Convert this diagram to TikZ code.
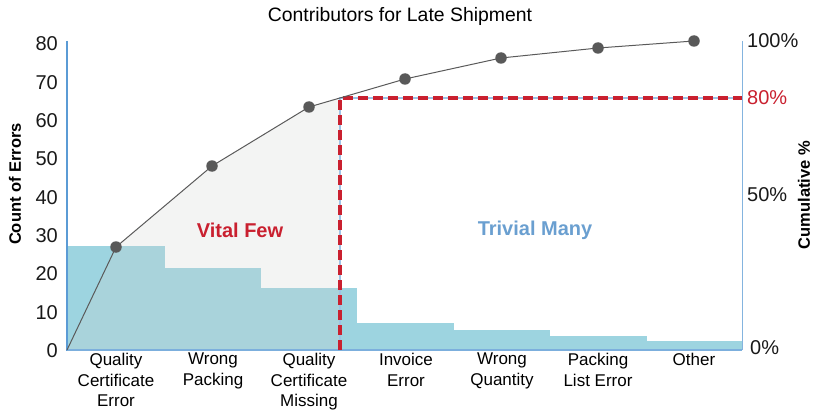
\documentclass[tikz,border=0pt]{standalone}
\usepackage{fontspec}
\setmainfont{Liberation Sans}
\definecolor{barc}{HTML}{9DD4E0}
\definecolor{axisblue}{HTML}{5B9BD5}
\definecolor{lightblue}{HTML}{9DC3E6}
\definecolor{redc}{HTML}{C9202F}
\definecolor{trivblue}{HTML}{6A9FD0}
\definecolor{ptgray}{HTML}{595959}
\definecolor{curvegray}{HTML}{5A5A5A}
\definecolor{ovgray}{HTML}{D0D2D0}
\begin{document}
\begin{tikzpicture}[x=1pt,y=-1pt,
  bar/.style={fill=barc,draw=none},
  pt/.style={circle,fill=ptgray,inner sep=0pt,minimum size=11.5pt},
  ticklab/.style={font=\fontsize{20}{22}\selectfont,text=black!90},
  catlab/.style={font=\fontsize{17}{20.5}\selectfont,align=center,anchor=north,inner sep=0pt},
  axtitle/.style={font=\fontsize{16.5}{18}\selectfont\bfseries,rotate=90},
  zone/.style={font=\fontsize{20}{22}\selectfont\bfseries}]
\useasboundingbox (0,0) rectangle (815,412);
% coordinates
\coordinate (o) at (67,350);
\coordinate (c1) at (116,247);
\coordinate (c2) at (212,166);
\coordinate (c3) at (309,107);
\coordinate (c4) at (405,79);
\coordinate (c5) at (501,58);
\coordinate (c6) at (598,48);
\coordinate (c7) at (694,41);
\coordinate (k) at (340,98);
\coordinate (kb) at (340,350);
\coordinate (kr) at (742,98);
% bars
\fill[bar] (67,350) rectangle (165,246);
\fill[bar] (165,350) rectangle (261,268);
\fill[bar] (261,350) rectangle (357,288);
\fill[bar] (357,350) rectangle (454,323);
\fill[bar] (454,350) rectangle (550,330);
\fill[bar] (550,350) rectangle (647,336);
\fill[bar] (647,350) rectangle (742,341);
% vital few overlay
\fill[fill=ovgray,fill opacity=0.25] (o) -- (c1) -- (c2) -- (c3) -- (k) -- (kb) -- cycle;
% axes
\draw[axisblue,line width=2.6pt] (67,41) -- (67,351);
\draw[axisblue!80,line width=1.2pt] (67,350) -- (742,350);
\draw[axisblue!75,line width=1pt] (742,41) -- (742,350);
% 80% line
\draw[lightblue,line width=1.8pt] (kb) -- (k) -- (kr);
\draw[redc,line width=3.2pt,dash pattern=on 10pt off 5pt] (kb) -- (k) -- (kr);
% curve
\draw[curvegray,line width=1pt] (o) -- (c1) -- (c2) -- (c3) -- (c4) -- (c5) -- (c6) -- (c7);
\foreach \p in {c1,c2,c3,c4,c5,c6,c7} \node[pt] (m\p) at (\p) {};
% title
\node[font=\fontsize{19.4}{22}\selectfont] (title) at (400,16) {Contributors for Late Shipment};
% left ticks
\foreach \v in {0,10,20,30,40,50,60,70,80}
  \node[ticklab,anchor=east,inner sep=0pt] (y\v) at (58,{350.5-\v*3.83}) {\v};
% right ticks
\node[ticklab,anchor=west,inner sep=0pt] (r100) at (747,41) {100\%};
\node[ticklab,anchor=west,inner sep=0pt,text=redc] (r80) at (747,98) {80\%};
\node[ticklab,anchor=west,inner sep=0pt] (r50) at (747,195) {50\%};
\node[ticklab,anchor=west,inner sep=0pt] (r0) at (750,348) {0\%};
% axis titles
\node[axtitle] (ylab) at (15,184) {Count of Errors};
\node[axtitle] (rlab) at (804,195) {Cumulative \%};
% zones
\node[zone,text=redc] (vital) at (240,230) {Vital Few};
\node[zone,text=trivblue] (trivial) at (535,230) {Trivial Many};
% categories
\node[catlab] (k1) at (116,353) {Quality\\Certificate\\Error};
\node[catlab] (k2) at (213,353) {Wrong\\Packing};
\node[catlab] (k3) at (309,353) {Quality\\Certificate\\Missing};
\node[catlab] (k4) at (406,353) {Invoice\\Error};
\node[catlab] (k5) at (502,353) {Wrong\\Quantity};
\node[catlab] (k6) at (598,353) {Packing\\List Error};
\node[catlab] (k7) at (694,353) {Other};
\end{tikzpicture}
\end{document}
